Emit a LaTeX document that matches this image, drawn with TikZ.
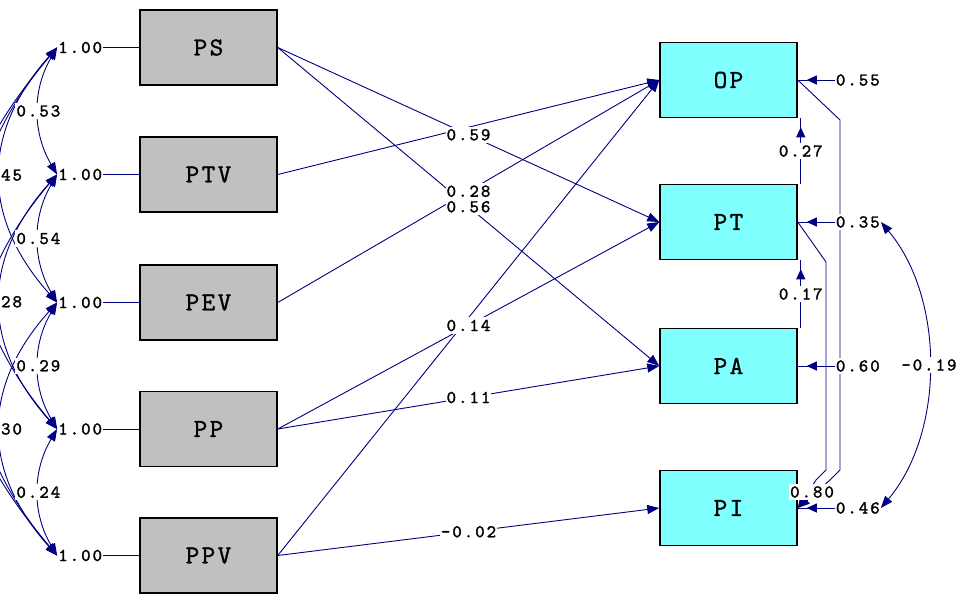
\documentclass[tikz,border=0pt]{standalone}
\usepackage{fontspec}
\usepackage{tikz}
\usetikzlibrary{arrows.meta, positioning, calc, decorations.markings}

\newfontfamily\valmono{lmmono10-regular.otf}[LetterSpace=11, FakeBold=1.6]
\newfontfamily\varmono{lmmono10-regular.otf}[LetterSpace=9, FakeBold=1]

\definecolor{lineblue}{RGB}{0,0,128}
\definecolor{xgray}{RGB}{192,192,192}
\definecolor{ycyan}{RGB}{128,255,255}

\tikzset{
    xvar/.style={draw=black, line width=1.5pt, fill=xgray, minimum width=137pt, minimum height=75pt, inner sep=0pt, font=\varmono\fontsize{26}{26}\selectfont},
    yvar/.style={xvar, fill=ycyan},
    val/.style={fill=white, inner xsep=1pt, inner ysep=2.5pt, font=\valmono\fontsize{18}{18}\selectfont},
    link/.style={lineblue, line width=0.9pt, -{Triangle[length=12pt,width=9pt]}},
    cov/.style={lineblue, line width=0.9pt, {Triangle[length=12pt,width=9pt]}-{Triangle[length=12pt,width=9pt]}},
    err/.style={lineblue, line width=0.9pt, postaction={decorate},
        decoration={markings, mark=at position -9pt with {\arrow{Triangle[length=10pt,width=9pt]}}}},
}

\begin{document}
\begin{tikzpicture}[x=1pt, y=-1pt]
    \useasboundingbox (0,0) rectangle (960,595);
    \clip (0,0) rectangle (960,595);

    % Exogenous variables
    \node[xvar] (PS)  at (208.5,47.5)  {PS};
    \node[xvar] (PTV) at (208.5,174.5) {PTV};
    \node[xvar] (PEV) at (208.5,302.5) {PEV};
    \node[xvar] (PP)  at (208.5,429)   {PP};
    \node[xvar] (PPV) at (208.5,555.5) {PPV};

    % Endogenous variables
    \node[yvar] (OP) at (728.5,80)  {OP};
    \node[yvar] (PT) at (728.5,222) {PT};
    \node[yvar] (PA) at (728.5,366) {PA};
    \node[yvar] (PI) at (728.5,508) {PI};

    % Variances
    \foreach \v in {PS,PTV,PEV,PP,PPV} {
        \node[val, fill=none] (v\v) [left=36pt of \v] {1.00};
        \draw[lineblue, line width=0.9pt] (v\v) -- (\v);
    }

    % Covariances
    \foreach \a/\b/\s in {PS/PTV/-25, PTV/PEV/-25, PEV/PP/-25, PP/PPV/-25,
                          PS/PEV/-76, PTV/PP/-76, PEV/PPV/-76,
                          PS/PP/-108, PTV/PPV/-108, PS/PPV/-145}
        \draw[cov] (v\a.west) .. controls ($(v\a.west)!1/3!(v\b.west) + (\s,0)$)
            and ($(v\a.west)!2/3!(v\b.west) + (\s,0)$) .. coordinate[pos=.5] (c\a\b) (v\b.west);

    % Paths
    \foreach \a/\b in {PS/PT, PS/PA, PTV/OP, PEV/OP, PP/PT, PP/PA, PPV/OP, PPV/PI}
        \draw[link] (\a.east) -- coordinate[pos=.5] (m\a\b) (\b.west);

    \draw[link] (OP.east) -- (840,120) -- (840,470) -- (830,480) -- (PI.east);
    \draw[link] (PT.east) -- (826,262) -- (826,470) -- (816,480) -- (PI.east);

    \draw[err] ($(PT.north east)+(3,0)$) -- coordinate[pos=.5] (bPTOP) ($(OP.south east)+(3,0)$);
    \draw[err] ($(PA.north east)+(3,0)$) -- coordinate[pos=.5] (bPAPT) ($(PT.south east)+(3,0)$);

    % Error variances
    \foreach \v/\t in {OP/0.55, PT/0.35, PA/0.60, PI/0.46} {
        \node[val] (e\v) [right=37pt of \v] {\t};
        \draw[err] (e\v) -- (\v);
    }
    \draw[cov] (ePT.east) .. controls +(64,76) and +(64,-76) .. coordinate[pos=.5] (cPTPI) (ePI.east);

    % Labels
    \foreach \a/\b/\t in {PS/PTV/0.53, PTV/PEV/0.54, PEV/PP/0.29, PP/PPV/0.24,
                          PS/PEV/0.45, PTV/PP/0.28, PEV/PPV/0.30}
        \node[val] (k\a\b) at (c\a\b) {\t};
    \foreach \a/\b/\t in {PEV/OP/0.28, PS/PT/0.59, PS/PA/0.56, PP/PT/0.14, PP/PA/0.11, PPV/PI/-0.02}
        \node[val] (l\a\b) at (m\a\b) {\t};
    \node[val] (lPTOP) at (bPTOP) {0.27};
    \node[val] (lPAPT) at (bPAPT) {0.17};
    \node[val] (lPTPI) at (812,492) {0.80};
    \node[val] (kPTPI) at (cPTPI) {-0.19};
\end{tikzpicture}
\end{document}
